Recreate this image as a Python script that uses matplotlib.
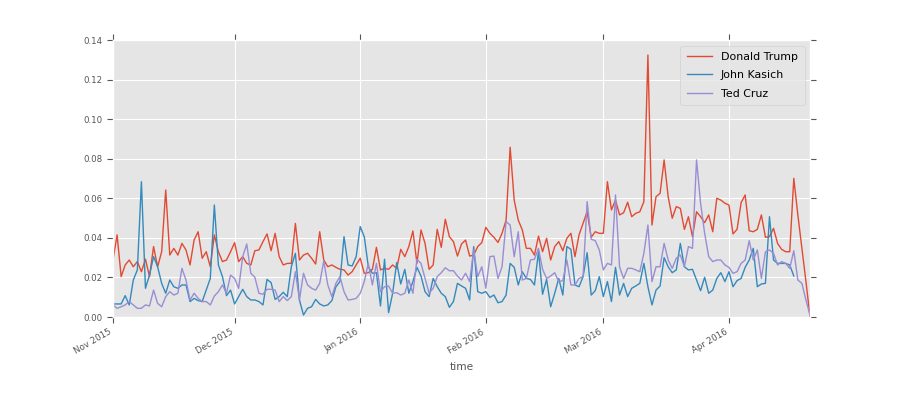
import numpy as np
import pandas as pd
import matplotlib
matplotlib.use("Agg")
import matplotlib.pyplot as plt
import matplotlib.dates as mdates

plt.style.use('ggplot')

# daily values, 1 Nov 2015 .. 21 Apr 2016
dates = pd.date_range('2015-11-01', '2016-04-21', freq='D')

trump = [
    0.0290, 0.0415, 0.0204, 0.0263, 0.0288, 0.0254, 0.0280, 0.0229, 0.0292, 0.0204,
    0.0356, 0.0254, 0.0330, 0.0642, 0.0313, 0.0347, 0.0313, 0.0372, 0.0339, 0.0263,
    0.0389, 0.0431, 0.0297, 0.0330, 0.0254, 0.0415, 0.0330, 0.0280, 0.0288, 0.0330,
    0.0376, 0.0280, 0.0305, 0.0271, 0.0263, 0.0335, 0.0339, 0.0381, 0.0420, 0.0335,
    0.0423, 0.0305, 0.0263, 0.0271, 0.0271, 0.0473, 0.0288, 0.0313, 0.0322, 0.0297,
    0.0268, 0.0431, 0.0288, 0.0254, 0.0263, 0.0251, 0.0241, 0.0238, 0.0212, 0.0229,
    0.0263, 0.0297, 0.0221, 0.0224, 0.0241, 0.0352, 0.0238, 0.0246, 0.0241, 0.0263,
    0.0246, 0.0342, 0.0305, 0.0356, 0.0435, 0.0271, 0.0440, 0.0372, 0.0241, 0.0263,
    0.0443, 0.0352, 0.0494, 0.0406, 0.0381, 0.0308, 0.0369, 0.0389, 0.0308, 0.0313,
    0.0356, 0.0376, 0.0453, 0.0423, 0.0403, 0.0377, 0.0423, 0.0490, 0.0858, 0.0591,
    0.0490, 0.0440, 0.0347, 0.0347, 0.0313, 0.0409, 0.0330, 0.0398, 0.0288, 0.0356,
    0.0381, 0.0335, 0.0398, 0.0423, 0.0305, 0.0415, 0.0473, 0.0532, 0.0403, 0.0431,
    0.0423, 0.0423, 0.0684, 0.0541, 0.0591, 0.0516, 0.0527, 0.0580, 0.0507, 0.0524,
    0.0532, 0.0583, 0.1324, 0.0465, 0.0608, 0.0625, 0.0794, 0.0608, 0.0499, 0.0558,
    0.0549, 0.0443, 0.0507, 0.0406, 0.0532, 0.0507, 0.0477, 0.0516, 0.0431, 0.0600,
    0.0591, 0.0575, 0.0566, 0.0420, 0.0443, 0.0578, 0.0617, 0.0436, 0.0431, 0.0443,
    0.0516, 0.0403, 0.0406, 0.0448, 0.0372, 0.0342, 0.0330, 0.0330, 0.0701, 0.0516,
    0.0347, 0.0179, 0.0002,
]

kasich = [
    0.0066, 0.0066, 0.0066, 0.0108, 0.0061, 0.0187, 0.0238, 0.0684, 0.0145, 0.0212,
    0.0305, 0.0254, 0.0170, 0.0120, 0.0187, 0.0153, 0.0145, 0.0162, 0.0162, 0.0078,
    0.0094, 0.0083, 0.0078, 0.0136, 0.0195, 0.0566, 0.0263, 0.0204, 0.0108, 0.0136,
    0.0066, 0.0103, 0.0140, 0.0103, 0.0086, 0.0086, 0.0078, 0.0061, 0.0190, 0.0174,
    0.0089, 0.0103, 0.0125, 0.0103, 0.0254, 0.0322, 0.0086, 0.0010, 0.0044, 0.0052,
    0.0089, 0.0066, 0.0056, 0.0061, 0.0083, 0.0153, 0.0179, 0.0406, 0.0263, 0.0258,
    0.0305, 0.0457, 0.0406, 0.0254, 0.0221, 0.0224, 0.0056, 0.0292, 0.0022, 0.0120,
    0.0275, 0.0167, 0.0241, 0.0120, 0.0179, 0.0251, 0.0207, 0.0128, 0.0103, 0.0195,
    0.0153, 0.0120, 0.0103, 0.0049, 0.0078, 0.0170, 0.0157, 0.0145, 0.0086, 0.0356,
    0.0128, 0.0120, 0.0128, 0.0099, 0.0111, 0.0072, 0.0078, 0.0111, 0.0271, 0.0251,
    0.0162, 0.0229, 0.0195, 0.0190, 0.0162, 0.0330, 0.0115, 0.0190, 0.0052, 0.0120,
    0.0195, 0.0111, 0.0356, 0.0342, 0.0162, 0.0153, 0.0204, 0.0325, 0.0111, 0.0133,
    0.0204, 0.0103, 0.0179, 0.0078, 0.0251, 0.0111, 0.0170, 0.0103, 0.0145, 0.0157,
    0.0170, 0.0271, 0.0153, 0.0061, 0.0136, 0.0157, 0.0300, 0.0254, 0.0224, 0.0238,
    0.0372, 0.0254, 0.0238, 0.0241, 0.0187, 0.0133, 0.0201, 0.0120, 0.0136, 0.0195,
    0.0224, 0.0179, 0.0229, 0.0153, 0.0184, 0.0195, 0.0251, 0.0288, 0.0347, 0.0153,
    0.0167, 0.0170, 0.0507, 0.0288, 0.0271, 0.0271, 0.0271, 0.0263, 0.0207, np.nan,
    np.nan, np.nan, np.nan,
]

cruz = [
    0.0061, 0.0044, 0.0052, 0.0061, 0.0078, 0.0061, 0.0044, 0.0044, 0.0061, 0.0056,
    0.0136, 0.0069, 0.0052, 0.0103, 0.0128, 0.0111, 0.0120, 0.0246, 0.0187, 0.0086,
    0.0120, 0.0094, 0.0078, 0.0078, 0.0061, 0.0106, 0.0128, 0.0162, 0.0120, 0.0212,
    0.0195, 0.0145, 0.0305, 0.0369, 0.0221, 0.0201, 0.0120, 0.0115, 0.0140, 0.0140,
    0.0136, 0.0078, 0.0103, 0.0083, 0.0103, 0.0229, 0.0086, 0.0221, 0.0162, 0.0145,
    0.0136, 0.0170, 0.0283, 0.0162, 0.0103, 0.0170, 0.0204, 0.0128, 0.0086, 0.0089,
    0.0094, 0.0120, 0.0179, 0.0271, 0.0162, 0.0271, 0.0128, 0.0153, 0.0157, 0.0120,
    0.0123, 0.0111, 0.0120, 0.0187, 0.0120, 0.0292, 0.0271, 0.0195, 0.0120, 0.0145,
    0.0204, 0.0224, 0.0249, 0.0234, 0.0234, 0.0207, 0.0187, 0.0221, 0.0179, 0.0339,
    0.0204, 0.0254, 0.0145, 0.0305, 0.0308, 0.0195, 0.0254, 0.0482, 0.0465, 0.0305,
    0.0431, 0.0187, 0.0195, 0.0288, 0.0292, 0.0347, 0.0241, 0.0195, 0.0207, 0.0224,
    0.0179, 0.0184, 0.0288, 0.0162, 0.0162, 0.0195, 0.0204, 0.0583, 0.0393, 0.0386,
    0.0339, 0.0238, 0.0271, 0.0263, 0.0617, 0.0254, 0.0195, 0.0246, 0.0246, 0.0238,
    0.0229, 0.0322, 0.0465, 0.0179, 0.0254, 0.0254, 0.0372, 0.0288, 0.0246, 0.0297,
    0.0313, 0.0254, 0.0356, 0.0347, 0.0794, 0.0575, 0.0423, 0.0305, 0.0280, 0.0288,
    0.0288, 0.0263, 0.0251, 0.0221, 0.0229, 0.0271, 0.0288, 0.0386, 0.0288, 0.0339,
    0.0195, 0.0330, 0.0339, 0.0322, 0.0263, 0.0280, 0.0271, 0.0246, 0.0335, 0.0187,
    0.0170, 0.0086, 0.0010,
]

names = ['Donald Trump', 'John Kasich', 'Ted Cruz']

fig = plt.figure(figsize=(9, 3.97), dpi=100)
ax = fig.add_axes([0.1256, 0.2015, 0.7744, 0.6977])

for name, vals in zip(names, [trump, kasich, cruz]):
    ax.plot(dates, vals, lw=1.0, label=name)

ax.set_xlim(dates[0], dates[-1])
ax.set_ylim(0, 0.14)
ax.set_yticks(np.arange(0, 0.1401, 0.02))
ax.yaxis.set_major_formatter(plt.FormatStrFormatter('%.2f'))
ax.xaxis.set_major_locator(mdates.MonthLocator())
ax.xaxis.set_major_formatter(mdates.DateFormatter('%b %Y'))

ax.tick_params(axis='both', which='major', labelsize=6.2, colors='#555555',
               top=True, right=True, length=4)
for lbl in ax.get_xticklabels():
    lbl.set_rotation(30)
    lbl.set_ha('right')

ax.set_xlabel('time', fontsize=7.7, color='#555555')
ax.legend(loc='upper right', fontsize=7.9, labelspacing=0.75,
          handlelength=2.3, borderpad=0.6)

fig.savefig('out.png', dpi=100)
